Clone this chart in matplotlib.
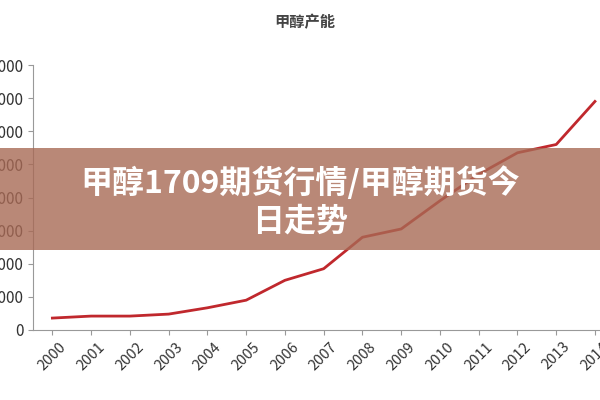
import matplotlib.pyplot as plt
import matplotlib.patches as patches

plt.rcParams['font.family'] = ['Noto Sans CJK SC', 'DejaVu Sans']

years = list(range(2000, 2015))
capacity = [360, 420, 420, 480, 670, 900, 1500, 1850, 2800, 3050, 3900, 4700, 5350, 5600, 6900]
yticks = [0, 1000, 2000, 3000, 4000, 5000, 6000, 7000, 8000]

fig = plt.figure(figsize=(6, 4), dpi=100)
ax = fig.add_axes([0.055, 0.175, 0.945, 0.6625])
ax.plot(years, capacity, color='#c0282d', linewidth=2)
ax.set_xlim(1999.5, 2014.13)
ax.set_ylim(0, 8000)
ax.set_xticks(years)
ax.set_xticklabels([str(y) for y in years], rotation=45, fontsize=10.5, color='#333333')
ax.set_yticks(yticks)
ax.set_yticklabels([str(v) for v in yticks], fontsize=11, color='#333333')
for s in ['top', 'right']:
    ax.spines[s].set_visible(False)
ax.spines['left'].set_color('#999999')
ax.spines['bottom'].set_color('#999999')
ax.tick_params(colors='#999999', labelcolor='#333333')

fig.text(0.508, 0.945, '甲醇产能', ha='center', va='center', fontsize=11, color='#444444', fontweight='bold')

banner = patches.Rectangle((0, 1 - 250 / 400), 1, 102 / 400, transform=fig.transFigure,
                           facecolor='#a86a55', alpha=0.8, edgecolor='none')
fig.patches.append(banner)
fig.text(0.5, 1 - 183 / 400, '甲醇1709期货行情/甲醇期货今', ha='center', va='center',
         fontsize=23, color='white', fontweight='bold')
fig.text(0.5, 1 - 222 / 400, '日走势', ha='center', va='center',
         fontsize=23, color='white', fontweight='bold')

fig.savefig('out.png', dpi=100)
